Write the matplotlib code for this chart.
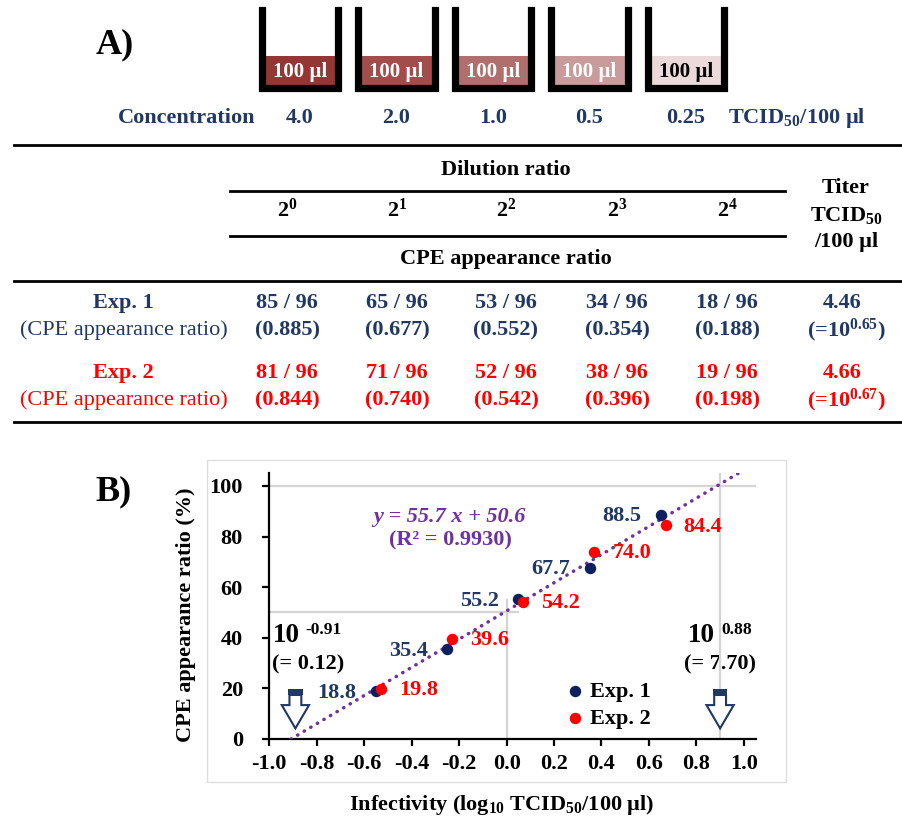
import matplotlib
matplotlib.use('Agg')
import matplotlib.pyplot as plt
from matplotlib.patches import Rectangle, FancyArrow
import numpy as np

plt.rcParams['font.family'] = ['Liberation Serif', 'DejaVu Serif']
plt.rcParams['font.weight'] = 'bold'
plt.rcParams['mathtext.fontset'] = 'custom'
plt.rcParams['mathtext.rm'] = 'Liberation Serif:bold'
plt.rcParams['mathtext.it'] = 'Liberation Serif:italic:bold'
plt.rcParams['mathtext.bf'] = 'Liberation Serif:bold'
plt.rcParams['mathtext.default'] = 'rm'
plt.rcParams['axes.unicode_minus'] = False

# ---- data -------------------------------------------------------------
conc_labels = ['4.0', '2.0', '1.0', '0.5', '0.25']
well_colors = ['#943634', '#a24c4b', '#b06e6d', '#c99b9a', '#ecdada']
well_text_colors = ['white', 'white', 'white', 'white', 'black']
dilution_powers = [0, 1, 2, 3, 4]
n_wells = 96
exp1_pos = [85, 65, 53, 34, 18]
exp2_pos = [81, 71, 52, 38, 19]
exp1_ratio = [0.885, 0.677, 0.552, 0.354, 0.188]
exp2_ratio = [0.844, 0.740, 0.542, 0.396, 0.198]
exp1_titer, exp1_log = '4.46', '0.65'
exp2_titer, exp2_log = '4.66', '0.67'

# log10 infectivity of each dilution (titer / 2^n)
exp1_x = [0.65, 0.35, 0.05, -0.25, -0.55]
exp2_x = [0.67, 0.37, 0.07, -0.23, -0.53]
slope, intercept, r2 = 55.7, 50.6, 0.9930
low_exp, low_val = '-0.91', '0.12'
high_exp, high_val = '0.88', '7.70'
arrow_x = [-0.89, 0.90]

navy = '#1f3864'
dot_navy = '#0d1f5c'
red = '#ff0000'
purple = '#7030a0'
grey = '#d4d4d4'

W, H = 902, 817
fig = plt.figure(figsize=(W / 100, H / 100), dpi=100)

# overlay in pixel coordinates for panel A and frame of panel B
ov = fig.add_axes([0, 0, 1, 1])
ov.set_xlim(0, W)
ov.set_ylim(H, 0)
ov.axis('off')


def txt(x, y, s, size=16, color='black', ha='center', va='center', **kw):
    ov.text(x, y, s, fontsize=size, color=color, ha=ha, va=va,
            fontweight='bold', **kw)


# ---- panel A : wells ---------------------------------------------------
txt(96, 45, 'A)', size=26, ha='left')
well_w, pitch, first_left = 83.4, 96.5, 258.3
for i, lab in enumerate(conc_labels):
    x0 = first_left + i * pitch
    cx = x0 + well_w / 2
    ov.add_patch(Rectangle((x0 + 6, 56), well_w - 12, 29, color=well_colors[i], lw=0))
    ov.plot([x0 + 3.5, x0 + 3.5, x0 + well_w - 3.5, x0 + well_w - 3.5],
            [10, 88.2, 88.2, 10], color='black', lw=5.2, solid_joinstyle='miter')
    txt(cx, 71.5, '100 µl', size=15, color=well_text_colors[i])
    txt(cx, 118, lab, color=navy)
txt(118, 118, 'Concentration', color=navy, ha='left')
txt(728, 118, 'TCID$_{50}$/100 µl', color=navy, ha='left')

# ---- panel A : table ---------------------------------------------------
col_x = [287, 397, 506, 617, 727]
titer_x = 846
for y in [145, 280.7, 421.7]:
    ov.plot([14, W], [y, y], color='black', lw=2)
for y in [190.7, 236]:
    ov.plot([230, 785], [y, y], color='black', lw=2)
txt(506, 170, 'Dilution ratio')
txt(506, 259, 'CPE appearance ratio')
for cx, p in zip(col_x, dilution_powers):
    txt(cx, 210, '2$^{%d}$' % p)
txt(titer_x, 188.3, 'Titer')
txt(titer_x, 215, 'TCID$_{50}$')
txt(titer_x, 241.7, '/100 µl')

rows = [(303.3, 'Exp. 1', exp1_pos, exp1_ratio, exp1_titer, exp1_log, navy),
        (373.3, 'Exp. 2', exp2_pos, exp2_ratio, exp2_titer, exp2_log, red)]
for y, name, pos, ratio, titer, lg, c in rows:
    txt(123, y, name, color=c)
    ov.text(124, y + 27, '(CPE appearance ratio)', fontsize=16, color=c,
            ha='center', va='center', fontweight='normal')
    for cx, p, r in zip(col_x, pos, ratio):
        txt(cx, y, '%d / %d' % (p, n_wells), color=c)
        txt(cx, y + 27, '(%.3f)' % r, color=c)
    txt(titer_x - 4, y, titer, color=c)
    txt(titer_x, y + 27, '(=10$^{%s}$)' % lg, color=c)

# ---- panel B frame and labels --------------------------------------------
ov.add_patch(Rectangle((207, 460), 579, 322, fill=False, edgecolor='#dddddd', lw=1))
txt(95, 492, 'B)', size=26, ha='left')
txt(186, 615, 'CPE appearance ratio (%)', rotation=90)
txt(502, 805, 'Infectivity (log$_{10}$ TCID$_{50}$/100 µl)')

txt(273, 642.3, '10', size=19.5, ha='left', va='baseline')
txt(305, 633.5, low_exp, size=12.5, ha='left', va='baseline')
txt(308, 664, '(= %s)' % low_val)
txt(687.7, 642.3, '10', size=19.5, ha='left', va='baseline')
txt(721, 634, high_exp, size=12.5, ha='left', va='baseline')
txt(720, 664, '(= %s)' % high_val)

# ---- panel B : scatter plot ------------------------------------------------
ax = fig.add_axes([269.3 / W, 1 - 739 / H, (755.7 - 269.3) / W, (739 - 473.3) / H])
ax.set_zorder(2)
ax.patch.set_alpha(0)
ax.set_xlim(-1.0, 1.05)
ax.set_ylim(0, 105)

# guide lines
ax.plot([-1.0, 1.05], [100, 100], color=grey, lw=1.6, zorder=1)
ax.plot([arrow_x[1], arrow_x[1]], [0, 105], color=grey, lw=1.6, zorder=1)
ax.plot([-1.0, 0.05], [50, 50], color=grey, lw=1.6, zorder=1)
ax.plot([0, 0], [0, 55], color=grey, lw=1.6, zorder=1)

# regression line y = slope * x + intercept
fit_x = np.array([-intercept / slope, (105 - intercept) / slope])
ax.plot(fit_x, slope * fit_x + intercept, color=purple, lw=2.5,
        linestyle=(0, (0.1, 2.1)), dash_capstyle='round', zorder=3)

exp1_y = [r * 100 for r in exp1_ratio]
exp2_y = [r * 100 for r in exp2_ratio]
ax.scatter(exp1_x, exp1_y, s=52, color=dot_navy, zorder=4, label='Exp. 1')
ax.scatter(exp2_x, exp2_y, s=52, color=red, zorder=5, label='Exp. 2')

for x, y in zip(exp1_x, exp1_y):
    ax.annotate('%.1f' % y, (x, y), xytext=(-14, -1), textcoords='offset points',
                ha='right', va='center', fontsize=16, color=navy, fontweight='bold')
for x, y in zip(exp2_x, exp2_y):
    ax.annotate('%.1f' % y, (x, y), xytext=(13, -1), textcoords='offset points',
                ha='left', va='center', fontsize=16, color=red, fontweight='bold')

ax.text(-0.24, 87.8, 'y = %.1f x + %.1f' % (slope, intercept), color=purple,
        fontsize=16, fontweight='bold', fontstyle='italic', ha='center', va='center')
ax.text(-0.235, 78.3, '(R² = %.4f)' % r2, color=purple, fontsize=16,
        fontweight='bold', ha='center', va='center')

# arrows marking the extrapolated intercepts
for xa in arrow_x:
    ax.add_patch(FancyArrow(xa, 17.4, 0, -13.2, width=0.05, head_width=0.115,
                            head_length=9.2, length_includes_head=True,
                            facecolor='white', edgecolor=navy, lw=1.5, zorder=6))
    ax.add_patch(Rectangle((xa - 0.03, 17.2), 0.06, 2.4, color=navy, lw=0, zorder=7))

ax.legend(loc='upper left', bbox_to_anchor=(0.605, 0.217), frameon=False,
          fontsize=16, handletextpad=0.2, labelspacing=0.3, borderpad=0,
          borderaxespad=0, handlelength=1.0, scatterpoints=1)

xt = [-1.0, -0.8, -0.6, -0.4, -0.2, 0.0, 0.2, 0.4, 0.6, 0.8, 1.0]
ax.set_xticks(xt)
ax.set_xticklabels(['%.1f' % v for v in xt])
ax.set_yticks([0, 20, 40, 60, 80, 100])
for s in ['top', 'right']:
    ax.spines[s].set_visible(False)
for s in ['left', 'bottom']:
    ax.spines[s].set_linewidth(1.6)
ax.tick_params(axis='both', direction='out', length=5, width=1.6, labelsize=16)
ax.tick_params(axis='y', pad=14)
ax.tick_params(axis='x', pad=5.5)

fig.savefig('out.png', dpi=100)
